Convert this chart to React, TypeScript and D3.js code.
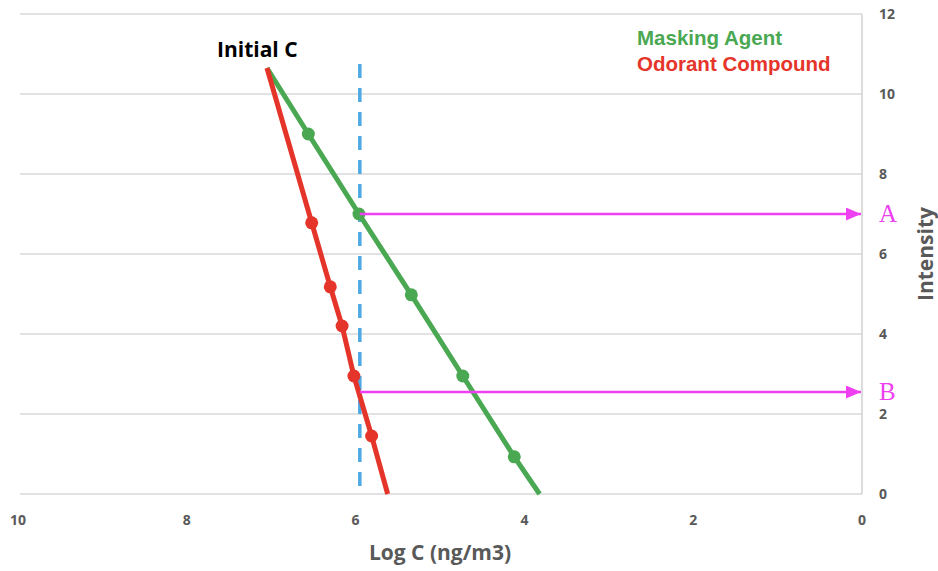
import * as d3 from "d3";
import React from "react";

// Masking agent (green) and odorant compound (red): [log C, intensity]
const maskingAgent: [number, number][] = [
  [7.05, 10.65],
  [6.56, 9.0],
  [5.96, 7.0],
  [5.34, 4.98],
  [4.73, 2.95],
  [4.12, 0.93],
  [3.82, 0],
];
const odorantCompound: [number, number][] = [
  [7.05, 10.65],
  [6.52, 6.78],
  [6.3, 5.18],
  [6.16, 4.2],
  [6.02, 2.95],
  [5.81, 1.45],
  [5.62, 0],
];
const xTicks = [10, 8, 6, 4, 2, 0];
const yTicks = [0, 2, 4, 6, 8, 10, 12];
const dashedX = 5.95;
const dashedTop = 10.75;
const arrows = [
  { label: "A", y: 7.0 },
  { label: "B", y: 2.55 },
];

const W = 938;
const H = 571;
const GREEN = "#4aa852";
const RED = "#e5352a";
const MAGENTA = "#ee3ff0";
const BLUE = "#4da8e4";
const GREY = "#595959";

export default function App() {
  const x = d3.scaleLinear().domain([10, 0]).range([18, 862]);
  const y = d3.scaleLinear().domain([0, 12]).range([494, 14]);
  const line = d3
    .line<[number, number]>()
    .x((d) => x(d[0]))
    .y((d) => y(d[1]));

  const font = "'Open Sans', 'Liberation Sans', sans-serif";

  return (
    <svg
      width={W}
      height={H}
      style={{ position: "absolute", left: 0, top: 0, background: "#fff" }}
    >
      <defs>
        <marker
          id="arrow"
          viewBox="0 0 10 10"
          refX="10"
          refY="5"
          markerWidth="15"
          markerHeight="13"
          markerUnits="userSpaceOnUse"
          orient="auto"
          preserveAspectRatio="none"
        >
          <path d="M0,0 L10,5 L0,10 Z" fill={MAGENTA} />
        </marker>
      </defs>

      {/* gridlines */}
      {yTicks.map((t) => (
        <line
          key={t}
          x1={20}
          x2={x(0)}
          y1={y(t)}
          y2={y(t)}
          stroke="#d9d9d9"
          strokeWidth={1.5}
        />
      ))}
      <line x1={x(0)} x2={x(0)} y1={y(12)} y2={y(0)} stroke="#d0d0d0" strokeWidth={1.5} />

      {/* y tick labels */}
      {yTicks.map((t) => (
        <text
          key={t}
          x={879}
          y={y(t) + 5}
          fontFamily={font}
          fontWeight="bold"
          fontSize={14}
          fill={GREY}
        >
          {t}
        </text>
      ))}
      {/* x tick labels */}
      {xTicks.map((t) => (
        <text
          key={t}
          x={x(t)}
          y={525}
          textAnchor="middle"
          fontFamily={font}
          fontWeight="bold"
          fontSize={14}
          fill={GREY}
        >
          {t}
        </text>
      ))}

      <text
        x={440}
        y={560}
        textAnchor="middle"
        fontFamily={font}
        fontWeight="bold"
        fontSize={21}
        fill={GREY}
      >
        Log C (ng/m3)
      </text>
      <text
        transform={`translate(933,254) rotate(-90)`}
        textAnchor="middle"
        fontFamily={font}
        fontWeight="bold"
        fontSize={21}
        fill={GREY}
      >
        Intensity
      </text>

      {/* dashed vertical */}
      <line
        x1={x(dashedX)}
        x2={x(dashedX)}
        y1={y(dashedTop)}
        y2={y(0)}
        stroke={BLUE}
        strokeWidth={3.5}
        strokeDasharray="14,10"
      />

      {/* series */}
      <path d={line(maskingAgent) ?? ""} fill="none" stroke={GREEN} strokeWidth={5} />
      <path d={line(odorantCompound) ?? ""} fill="none" stroke={RED} strokeWidth={5} />
      {maskingAgent.slice(1, -1).map((d, i) => (
        <circle key={"g" + i} cx={x(d[0])} cy={y(d[1])} r={6.5} fill={GREEN} />
      ))}
      {odorantCompound.slice(1, -1).map((d, i) => (
        <circle key={"r" + i} cx={x(d[0])} cy={y(d[1])} r={6.5} fill={RED} />
      ))}

      {/* arrows */}
      {arrows.map((a) => (
        <g key={a.label}>
          <line
            x1={x(dashedX)}
            x2={x(0) - 1}
            y1={y(a.y)}
            y2={y(a.y)}
            stroke={MAGENTA}
            strokeWidth={2.5}
            markerEnd="url(#arrow)"
          />
          <text
            x={879}
            y={y(a.y) + 8}
            fontFamily="'Liberation Serif', 'DejaVu Serif', serif"
            fontSize={25}
            fill={MAGENTA}
          >
            {a.label}
          </text>
        </g>
      ))}

      {/* annotations */}
      <text
        x={217}
        y={57}
        fontFamily={font}
        fontWeight="bold"
        fontSize={21}
        fill="#000"
      >
        Initial C
      </text>
      <text
        x={637}
        y={45}
        fontFamily="'Liberation Sans', Arial, sans-serif"
        fontWeight="bold"
        fontSize={20.5}
        fill={GREEN}
      >
        Masking Agent
      </text>
      <text
        x={637}
        y={71}
        fontFamily="'Liberation Sans', Arial, sans-serif"
        fontWeight="bold"
        fontSize={20.5}
        fill={RED}
      >
        Odorant Compound
      </text>
    </svg>
  );
}
